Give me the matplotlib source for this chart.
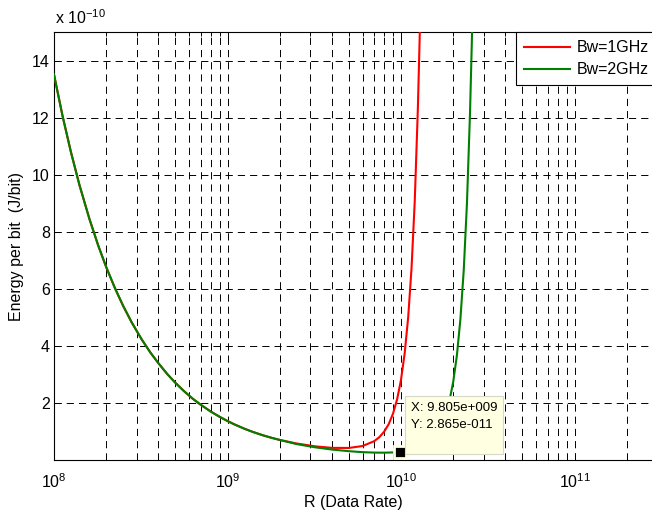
import matplotlib
matplotlib.use("Agg")
import matplotlib.pyplot as plt
from matplotlib.ticker import LogLocator, NullFormatter, FixedLocator

plt.rcParams["font.family"] = ["Liberation Sans", "DejaVu Sans"]
plt.rcParams["mathtext.fontset"] = "custom"
plt.rcParams["mathtext.rm"] = "Liberation Sans"
plt.rcParams["mathtext.it"] = "Liberation Sans:italic"
plt.rcParams["lines.scale_dashes"] = False

# energy values are in units of 1e-10 J/bit
# shared part of both curves (the two bandwidths overlap here)
rate_shared = [1e8, 1.12e8, 1.25e8, 1.4e8, 1.6e8, 1.8e8, 2e8, 2.25e8, 2.5e8, 2.8e8,
               3.2e8, 3.6e8, 4e8, 4.5e8, 5e8, 5.6e8, 6.3e8, 7e8, 8e8, 9e8,
               1e9, 1.1e9, 1.25e9, 1.4e9, 1.6e9, 1.8e9, 2e9]
energy_shared = [13.52, 12.07, 10.82, 9.66, 8.46, 7.52, 6.77, 6.02, 5.42, 4.84,
                 4.24, 3.77, 3.40, 3.02, 2.72, 2.43, 2.16, 1.95, 1.71, 1.525,
                 1.376, 1.254, 1.108, 0.994, 0.876, 0.786, 0.714]

# Bw = 1 GHz tail
rate_1g = [2.5e9, 3.2e9, 4e9, 5e9, 6e9, 7e9, 7.5e9, 8e9, 8.5e9, 9e9, 9.5e9,
           1e10, 1.05e10, 1.1e10, 1.15e10, 1.2e10, 1.25e10, 1.28e10, 1.3e10]
energy_1g = [0.589, 0.489, 0.436, 0.433, 0.50, 0.669, 0.81, 1.006, 1.27, 1.64, 2.14,
             2.82, 3.75, 5.01, 6.73, 9.07, 12.27, 14.7, 16.6]

# Bw = 2 GHz tail
rate_2g = [2.5e9, 3.2e9, 4e9, 5e9, 6e9, 7e9, 8e9, 9e9, 1e10, 1.2e10, 1.4e10,
           1.5e10, 1.6e10, 1.7e10, 1.8e10, 1.9e10, 2e10, 2.1e10, 2.2e10, 2.3e10,
           2.4e10, 2.5e10, 2.56e10, 2.6e10]
energy_2g = [0.569, 0.455, 0.377, 0.319, 0.286, 0.270, 0.267, 0.276, 0.298, 0.388, 0.573,
             0.72, 0.921, 1.194, 1.57, 2.07, 2.75, 3.68, 4.95, 6.67,
             9.02, 12.21, 14.65, 16.6]

labels = ["Bw=1GHz", "Bw=2GHz"]
colors = ["#ff0000", "#008000"]

tip_rate = 9.805e9
tip_energy = 0.2865

xticks = [1e8, 1e9, 1e10, 1e11]
yticks = [2, 4, 6, 8, 10, 12, 14]

W, H = 652, 515
fig = plt.figure(figsize=(W / 100, H / 100), dpi=100)
# axes box runs past the right edge of the picture (it is cropped there)
ax = fig.add_axes([54 / W, 54.7 / H, 694 / W, 428 / H])

x1 = rate_shared + rate_1g
y1 = energy_shared + energy_1g
x2 = rate_shared + rate_2g
y2 = energy_shared + energy_2g
l1, = ax.plot(x1, y1, color=colors[0], lw=1.5, label=labels[0], zorder=3)
l2, = ax.plot(x2, y2, color=colors[1], lw=1.5, label=labels[1], zorder=3)

ax.set_xscale("log")
ax.set_xlim(1e8, 1e12)
ax.set_ylim(0, 15)
ax.yaxis.set_major_locator(FixedLocator(yticks))
ax.xaxis.set_major_locator(FixedLocator(xticks))
ax.xaxis.set_minor_locator(LogLocator(base=10, subs=range(2, 10), numticks=100))
ax.xaxis.set_minor_formatter(NullFormatter())

dash = (0, (5.2, 3.6))
ax.grid(True, which="major", axis="both", color="k", lw=0.7, linestyle=dash)
ax.grid(True, which="minor", axis="x", color="k", lw=0.7, linestyle=dash)
ax.set_axisbelow(True)

ax.tick_params(which="both", direction="in", top=True, right=True,
               labelsize=11.5, width=0.7)
ax.tick_params(axis="x", pad=9)
ax.tick_params(axis="y", pad=3)
ax.tick_params(which="major", length=5)
ax.tick_params(which="minor", length=3)
for s in ax.spines.values():
    s.set_linewidth(0.8)

ax.set_xlabel("R (Data Rate)", fontsize=11.5)
ax.xaxis.set_label_coords((353 - 54) / 694, -(502 - 460.3) / 428)
ax.xaxis.label.set_va("center")
ax.set_ylabel("Energy per bit  (J/bit)", fontsize=11.5)
ax.yaxis.set_label_coords((17 - 54) / 694, 0.5)
ax.yaxis.label.set_va("center")

fig.text(55 / W, 1 - 24.5 / H, r"x 10$^{\mathdefault{-10}}$", fontsize=11.5, va="baseline")

leg = ax.legend(handles=[l1, l2], loc="upper left",
                bbox_to_anchor=(515.7 / W, 1 - 32.3 / H), bbox_transform=fig.transFigure,
                borderaxespad=0, fontsize=11.5, fancybox=False, framealpha=1,
                edgecolor="k", handlelength=2.9, handletextpad=0.45,
                borderpad=0.5, labelspacing=0.45)
leg.get_frame().set_linewidth(0.8)

# data tip
ax.plot([tip_rate], [tip_energy], marker="s", ms=8, mfc="k", mec="#ffffe1",
        mew=2, zorder=6, clip_on=False)
ax.annotate("X: 9.805e+009\nY: 2.865e-011\n ", xy=(tip_rate, tip_energy),
            xytext=(11.5, 50), textcoords="offset pixels", ha="left", va="top",
            fontsize=9.5, linespacing=1.55, zorder=7,
            bbox=dict(boxstyle="square,pad=0.45", fc="#ffffe1", ec="#d8d8c8", lw=0.8))

fig.savefig("out.png", dpi=100)
